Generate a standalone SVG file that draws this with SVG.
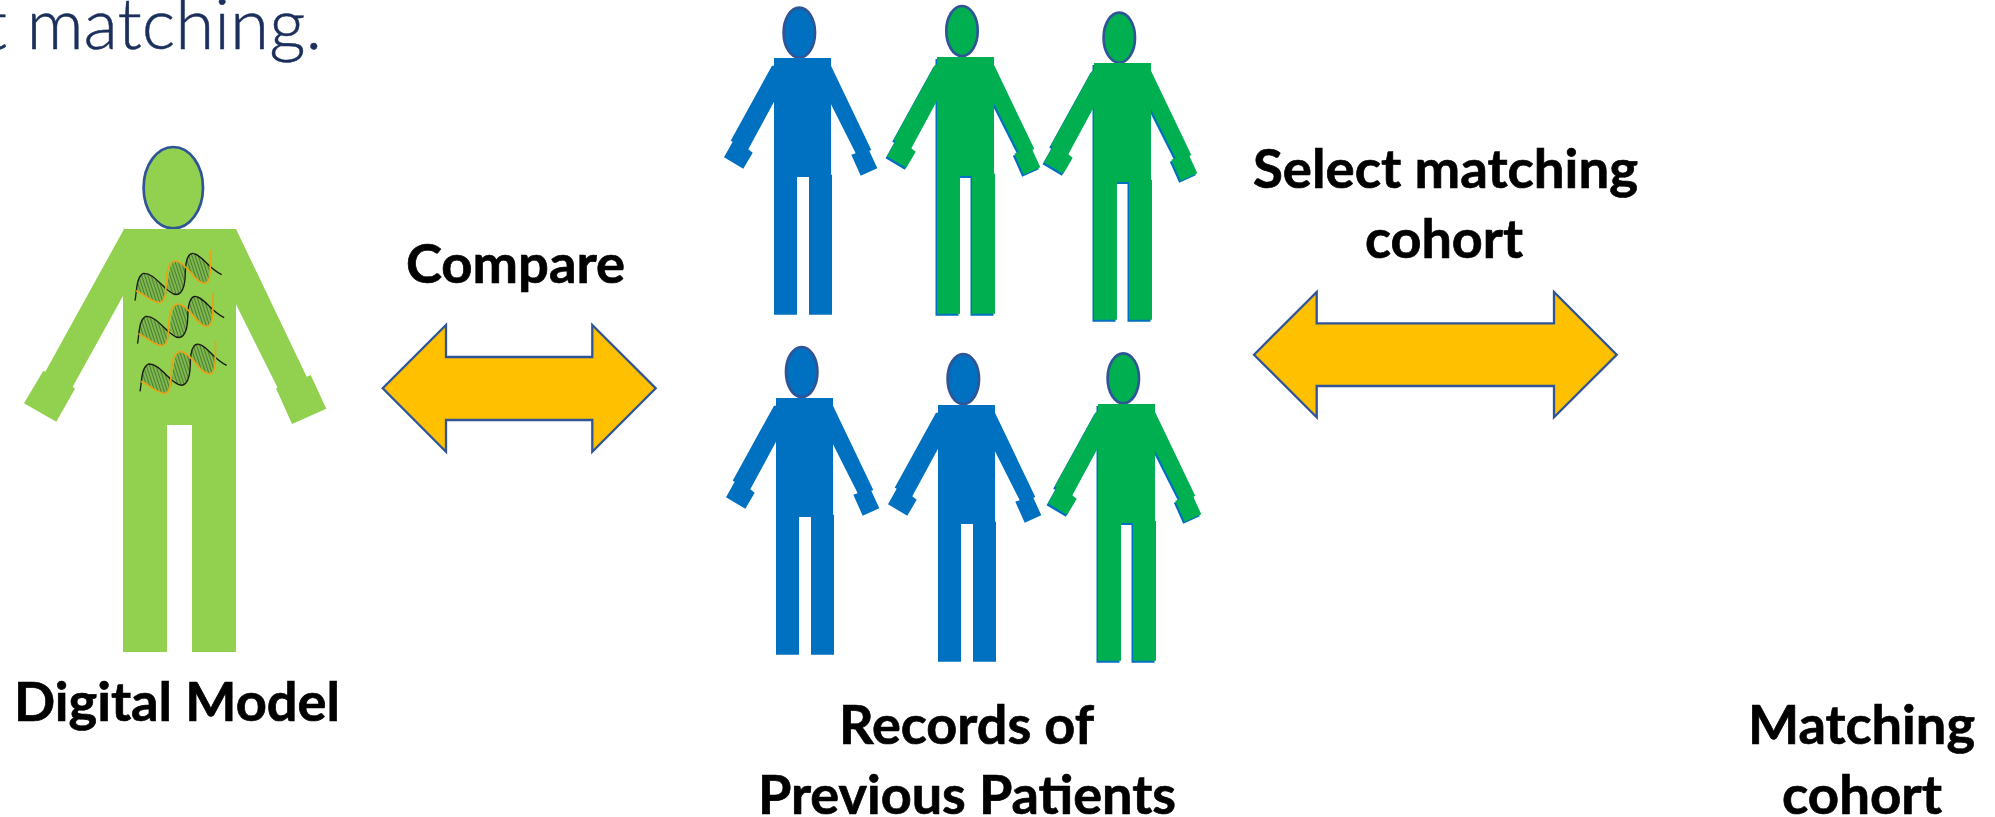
<svg xmlns="http://www.w3.org/2000/svg" xmlns:xlink="http://www.w3.org/1999/xlink" width="1995" height="817" viewBox="0 0 1995 817">
<style>
.lbl{font-family:"Lato","Carlito","Liberation Sans",sans-serif;font-weight:700;font-size:54px;fill:#000;stroke:#000;stroke-width:.7}
.ttl{font-family:"Lato","Liberation Sans",sans-serif;font-weight:300;font-size:71px;fill:#1b2f5c;stroke:#1b2f5c;stroke-width:.5}
.blue{fill:#0070c0}
.green{fill:#00b050}
.head{stroke:#2f5597;stroke-width:2.7}
.arrow{fill:#ffc000;stroke:#2f5597;stroke-width:2.3}
.bs{fill:none;stroke:#1c1c14;stroke-width:4}
.os{fill:none;stroke:#e8a317;stroke-width:5}
</style>
<defs>
<polygon id="fig" points="0,0 57,0 57,7.7 97.3,92 95.3,92.7 103.3,110.3 86.7,117.7 77.3,96.7 81.7,95.3 57,46.3 57,116.7 58,116.7 58,256.7 35,256.7 35,119 23,119 23,256.7 0,256.7 0,43.7 -25.7,91.3 -21.3,94.7 -30.7,110.7 -50,99.3 -41.3,83.7 -43.3,82.7 -2,7.7 0,7.7"/>
<pattern id="hatch" width="9" height="9" patternUnits="userSpaceOnUse" patternTransform="rotate(-18)">
<rect width="9" height="9" fill="#7fb84c"/>
<rect width="2.5" height="9" fill="#3f7030"/>
</pattern>
<g id="helix">
<path fill="url(#hatch)" d="M48,182C50,140 60,128 75,132C100,138 125,165 142,172C140,200 130,220 112,218C95,215 70,195 48,182Z"/>
<path fill="url(#hatch)" d="M142,172C146,130 150,90 170,93C180,95 190,102 197,108C197,140 195,190 172,193C160,193 150,180 142,172Z"/>
<path fill="url(#hatch)" d="M197,108C197,85 205,65 220,70C240,75 260,95 272,118C270,145 262,162 245,160C230,155 210,125 197,108Z"/>
<path class="bs" d="M45,212C50,190 48,140 70,130C100,128 125,170 150,185C175,205 195,190 196,130C196,80 210,65 225,72C250,80 265,115 305,134"/>
<path class="os" d="M48,182C70,190 95,218 120,218C140,215 137,170 140,140C143,100 160,88 175,95C210,110 225,160 255,160C275,158 270,110 272,60"/>
</g>
</defs>
<text class="ttl" x="322" y="49" text-anchor="end">t matching.</text>
<g id="digital-model">
<ellipse cx="173.3" cy="187.7" rx="29.7" ry="40.7" fill="#92d050" class="head"/>
<polygon fill="#92d050" points="123,229 236,229 306.7,376.7 310.7,375 326.3,408.7 292,424 276,388.3 277.5,387.5 236,304.3 236,652 192,652 192,425 167,425 167,652 123,652 123,296 72.7,386.7 75,388.7 56.3,421.7 24,403.3 43.3,370.7 45.3,371.7 125,227.3"/>
<use xlink:href="#helix" href="#helix" transform="translate(120,230) scale(.3333)"/>
<use xlink:href="#helix" href="#helix" transform="translate(122.5,273) scale(.3333)"/>
<use xlink:href="#helix" href="#helix" transform="translate(125,320.7) scale(.3333)"/>
<text class="lbl" x="14" y="721" textLength="326" lengthAdjust="spacingAndGlyphs">Digital Model</text>
</g>
<g id="patient-1"><ellipse cx="799.3" cy="32.7" rx="15.7" ry="25" class="blue head"/><use href="#fig" class="blue" x="774" y="58"/></g>
<g id="patient-2"><ellipse cx="962" cy="31" rx="15.7" ry="25" class="green head"/><use href="#fig" class="blue" x="935.5" y="59"/><use href="#fig" class="green" x="937" y="57"/></g>
<g id="patient-3"><ellipse cx="1119.3" cy="37.7" rx="15.7" ry="25" class="green head"/><use href="#fig" class="blue" x="1092.5" y="65"/><use href="#fig" class="green" x="1094" y="63"/></g>
<g id="patient-4"><ellipse cx="801.7" cy="372" rx="15.7" ry="25" class="blue head"/><use href="#fig" class="blue" x="776" y="398"/></g>
<g id="patient-5"><ellipse cx="963.3" cy="379" rx="15.7" ry="25" class="blue head"/><use href="#fig" class="blue" x="938" y="405"/></g>
<g id="patient-6"><ellipse cx="1123.3" cy="378.3" rx="15.7" ry="25" class="green head"/><use href="#fig" class="blue" x="1096.5" y="406"/><use href="#fig" class="green" x="1098" y="404"/></g>
<g id="connectors">
<polygon class="arrow" points="382.7,388.3 446,325 446,357 592.3,357 592.3,325 655.7,388.3 592.3,451.7 592.3,420 446,420 446,451.7"/>
<polygon class="arrow" points="1254,354.7 1316.7,292 1316.7,323.3 1554,323.3 1554,292 1616.7,354.7 1554,417.3 1554,386 1316.7,386 1316.7,417.3"/>
</g>
<text class="lbl" x="406" y="283" textLength="219" lengthAdjust="spacingAndGlyphs">Compare</text>
<text class="lbl" x="1253" y="188" textLength="385" lengthAdjust="spacingAndGlyphs">Select matching</text>
<text class="lbl" x="1365" y="258" textLength="158" lengthAdjust="spacingAndGlyphs">cohort</text>
<g id="records-label"><text class="lbl" x="839" y="744" textLength="255" lengthAdjust="spacingAndGlyphs">Records of</text>
<text class="lbl" x="758" y="814" textLength="418" lengthAdjust="spacingAndGlyphs">Previous Patients</text></g>
<g id="matching-label"><text class="lbl" x="1748" y="744" textLength="227" lengthAdjust="spacingAndGlyphs">Matching</text>
<text class="lbl" x="1782" y="814" textLength="160" lengthAdjust="spacingAndGlyphs">cohort</text></g>
</svg>
